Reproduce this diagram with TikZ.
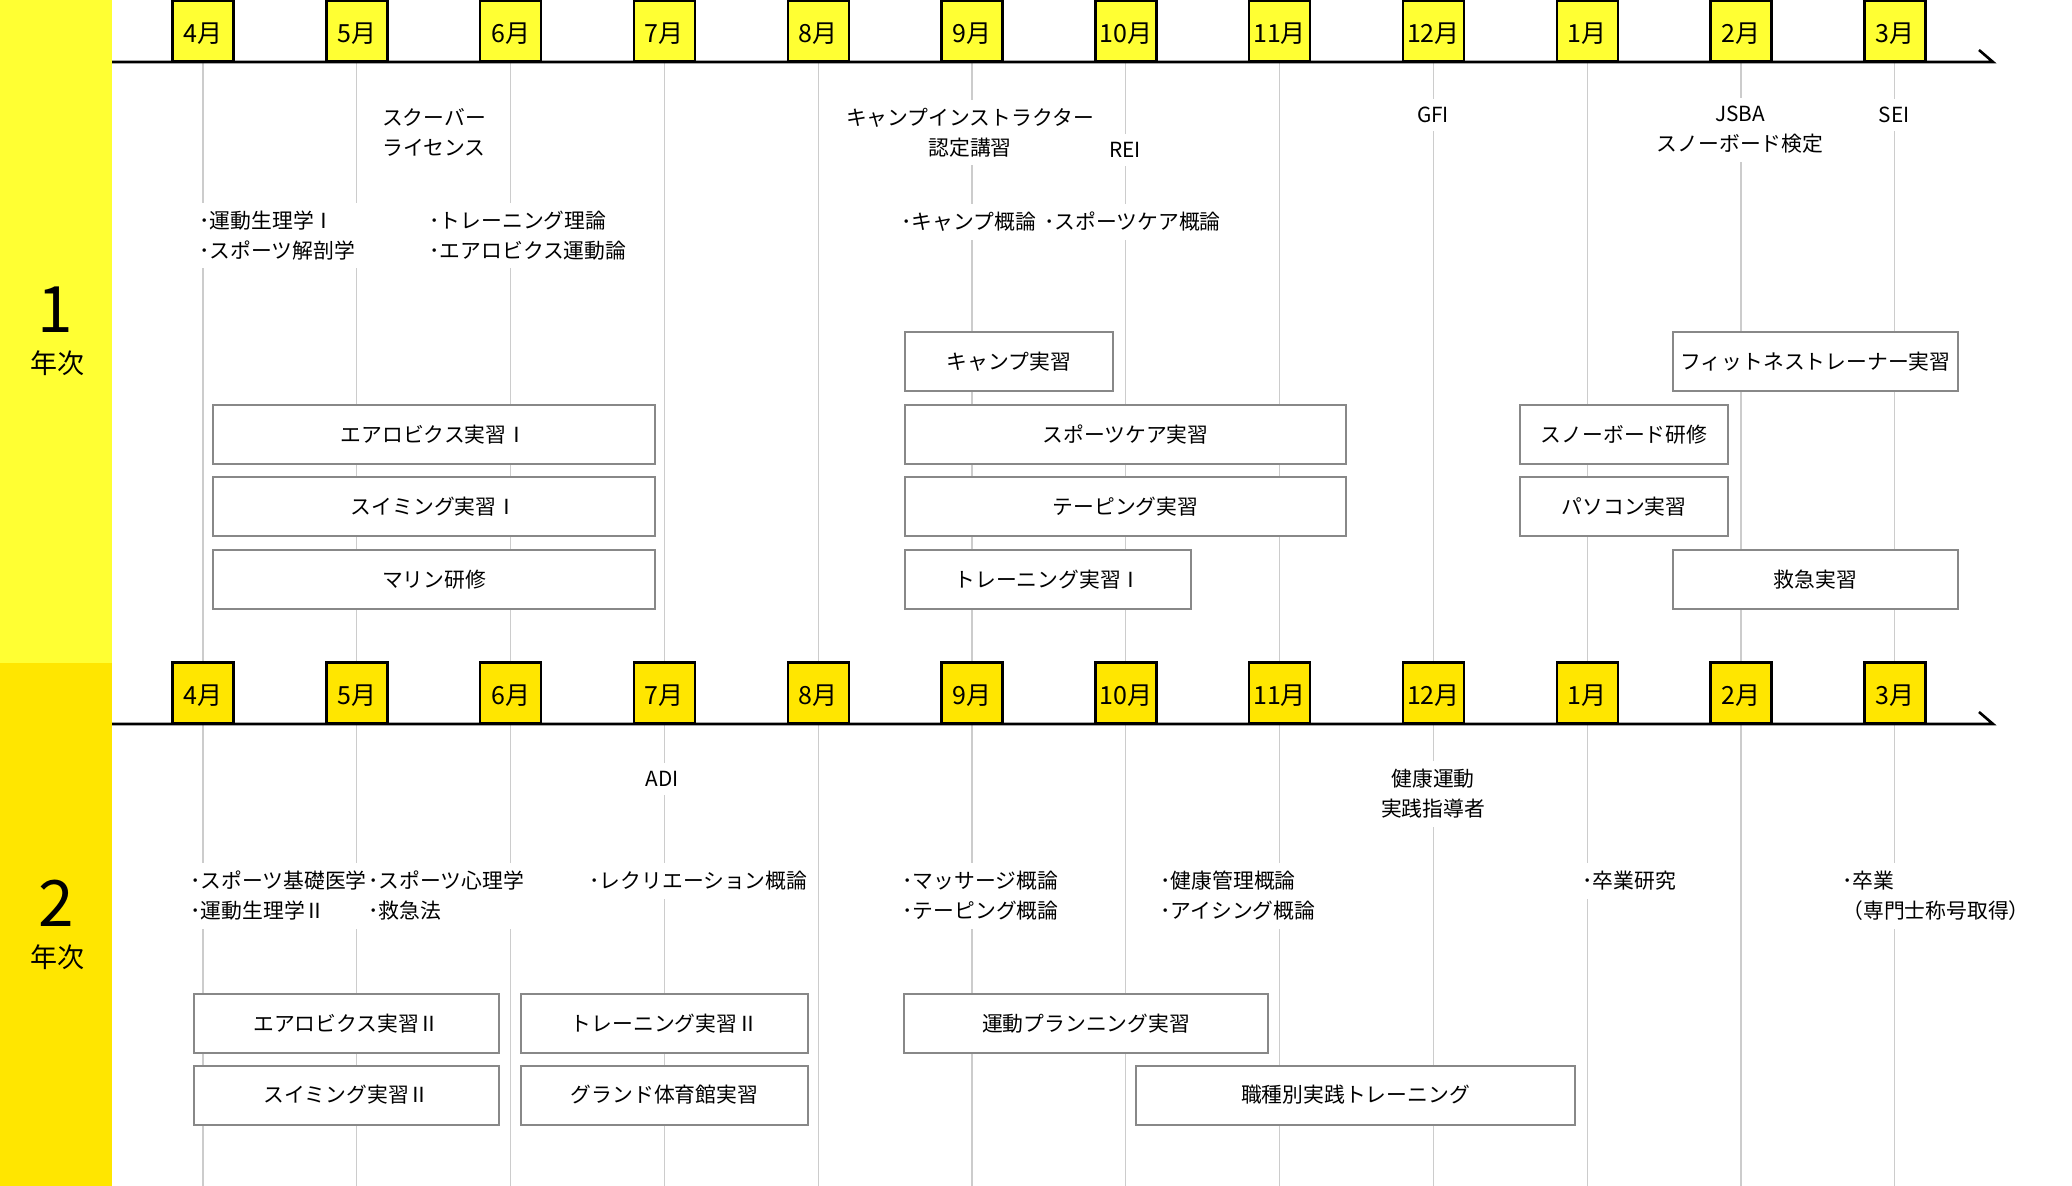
\documentclass[tikz,border=0pt]{standalone}
\usepackage{fontspec}
\setmainfont{Noto Sans CJK JP}
\definecolor{yA}{HTML}{FFFF33}
\definecolor{yB}{HTML}{FFE600}
\definecolor{gridc}{HTML}{CCCCCC}
\definecolor{bord}{HTML}{888888}
\tikzset{
 month/.style={draw=black, line width=1.2pt, minimum width=30.5pt, minimum height=30.5pt, inner sep=0pt, anchor=south, font=\fontsize{12.5}{12.5}\selectfont},
 course/.style={draw=bord, line width=1pt, fill=white, minimum height=29.5pt, inner sep=0pt, font=\fontsize{10.4}{15}\selectfont},
 lbl/.style={fill=white, inner xsep=1pt, inner ysep=4pt, font=\fontsize{10.4}{15}\selectfont, align=left, anchor=west},
 clbl/.style={fill=white, inner xsep=1pt, inner ysep=4pt, font=\fontsize{10.4}{15}\selectfont, align=center},
 tline/.style={line width=1.3pt},
 gline/.style={draw=gridc, line width=0.6pt},
 bignum/.style={font=\fontsize{32}{32}\selectfont, inner sep=0pt},
 nenji/.style={font=\fontsize{13.5}{14}\selectfont, inner sep=0pt},
}
\newcommand\mlab[1]{\raisebox{-2pt}[9pt][1pt]{#1月}}
\begin{document}
\begin{tikzpicture}[x=0.5pt,y=-0.5pt]
\useasboundingbox (0,0) rectangle (2072,1186);
\fill[yA] (0,0) rectangle (112,663);
\fill[yB] (0,663) rectangle (112,1186);
% grid lines
\foreach \k in {0,...,11}{
 \draw[gline] ({203+153.8*\k},62) -- ({203+153.8*\k},663);
 \draw[gline] ({203+153.8*\k},724) -- ({203+153.8*\k},1186);
}
% timelines
\coordinate (s1) at (112,62);
\coordinate (e1) at (1993,62);
\coordinate (t1) at (1979,50);
\coordinate (s2) at (112,724);
\coordinate (e2) at (1993,724);
\coordinate (t2) at (1979,712);
\draw[tline] (s1) -- (e1) -- (t1);
\draw[tline] (s2) -- (e2) -- (t2);
% month boxes
\foreach \m [count=\k from 0] in {4,5,6,7,8,9,10,11,12,1,2,3}{
 \node[month, fill=yA] (ma\k) at ({203+153.8*\k},62.6) {\mlab{\m}};
 \node[month, fill=yB] (mb\k) at ({203+153.8*\k},724.6) {\mlab{\m}};
}
% year labels
\node[bignum] (n1) at (55,310) {1};
\node[nenji] (j1) at (57,363) {年次};
\node[bignum] (n2) at (56,903) {2};
\node[nenji] (j2) at (57,957) {年次};

% year 1 labels
\node[clbl] (scuba) at (434,132) {スクーバー\\ライセンス};
\node[lbl] (k1a) at (197,235.5) {･運動生理学Ⅰ\\･スポーツ解剖学};
\node[lbl] (k1b) at (427,235.5) {･トレーニング理論\\･エアロビクス運動論};
\node[clbl] (camp) at (970,132.5) {キャンプインストラクター\\認定講習};
\node[clbl] (rei) at (1125,150) {REI};
\node[lbl] (k1c) at (899,222) {･キャンプ概論};
\node[lbl] (k1d) at (1042,222) {･スポーツケア概論};
\node[clbl] (gfi) at (1433,115) {GFI};
\node[clbl] (jsba) at (1740,130) {JSBA\\スノーボード検定};
\node[clbl] (sei) at (1894,115) {SEI};

% year 1 courses
\node[course, minimum width=221pt] (c1) at (434,434.5) {エアロビクス実習Ⅰ};
\node[course, minimum width=221pt] (c2) at (434,507) {スイミング実習Ⅰ};
\node[course, minimum width=221pt] (c3) at (434,579.5) {マリン研修};
\node[course, minimum width=104pt] (c4) at (1009,362) {キャンプ実習};
\node[course, minimum width=220.5pt] (c5) at (1125.5,434.5) {スポーツケア実習};
\node[course, minimum width=220.5pt] (c6) at (1125.5,507) {テーピング実習};
\node[course, minimum width=143pt] (c7) at (1048,579.5) {トレーニング実習Ⅰ};
\node[course, minimum width=142.5pt] (c8) at (1815.5,362) {フィットネストレーナー実習};
\node[course, minimum width=104pt] (c9) at (1624,434.5) {スノーボード研修};
\node[course, minimum width=104pt] (c10) at (1624,507) {パソコン実習};
\node[course, minimum width=142.5pt] (c11) at (1815.5,579.5) {救急実習};

% year 2 labels
\node[clbl] (adi) at (662,779) {ADI};
\node[lbl] (k2a) at (188,896) {･スポーツ基礎医学\\･運動生理学Ⅱ};
\node[lbl] (k2b) at (366,896) {･スポーツ心理学\\･救急法};
\node[lbl] (k2c) at (587,881) {･レクリエーション概論};
\node[clbl] (kenko) at (1433,794) {健康運動\\実践指導者};
\node[lbl] (k2d) at (900,896) {･マッサージ概論\\･テーピング概論};
\node[lbl] (k2e) at (1158,896) {･健康管理概論\\･アイシング概論};
\node[lbl] (k2f) at (1580,881) {･卒業研究};
\node[lbl] (k2g) at (1840,896) {･卒業\\（専門士称号取得）};

% year 2 courses
\node[course, minimum width=152.5pt] (d1) at (346.5,1023.5) {エアロビクス実習Ⅱ};
\node[course, minimum width=152.5pt] (d2) at (346.5,1095) {スイミング実習Ⅱ};
\node[course, minimum width=143.5pt] (d3) at (664.5,1023.5) {トレーニング実習Ⅱ};
\node[course, minimum width=143.5pt] (d4) at (664.5,1095) {グランド体育館実習};
\node[course, minimum width=182pt] (d5) at (1086,1023.5) {運動プランニング実習};
\node[course, minimum width=219.5pt] (d6) at (1355.5,1095) {職種別実践トレーニング};
\end{tikzpicture}
\end{document}
